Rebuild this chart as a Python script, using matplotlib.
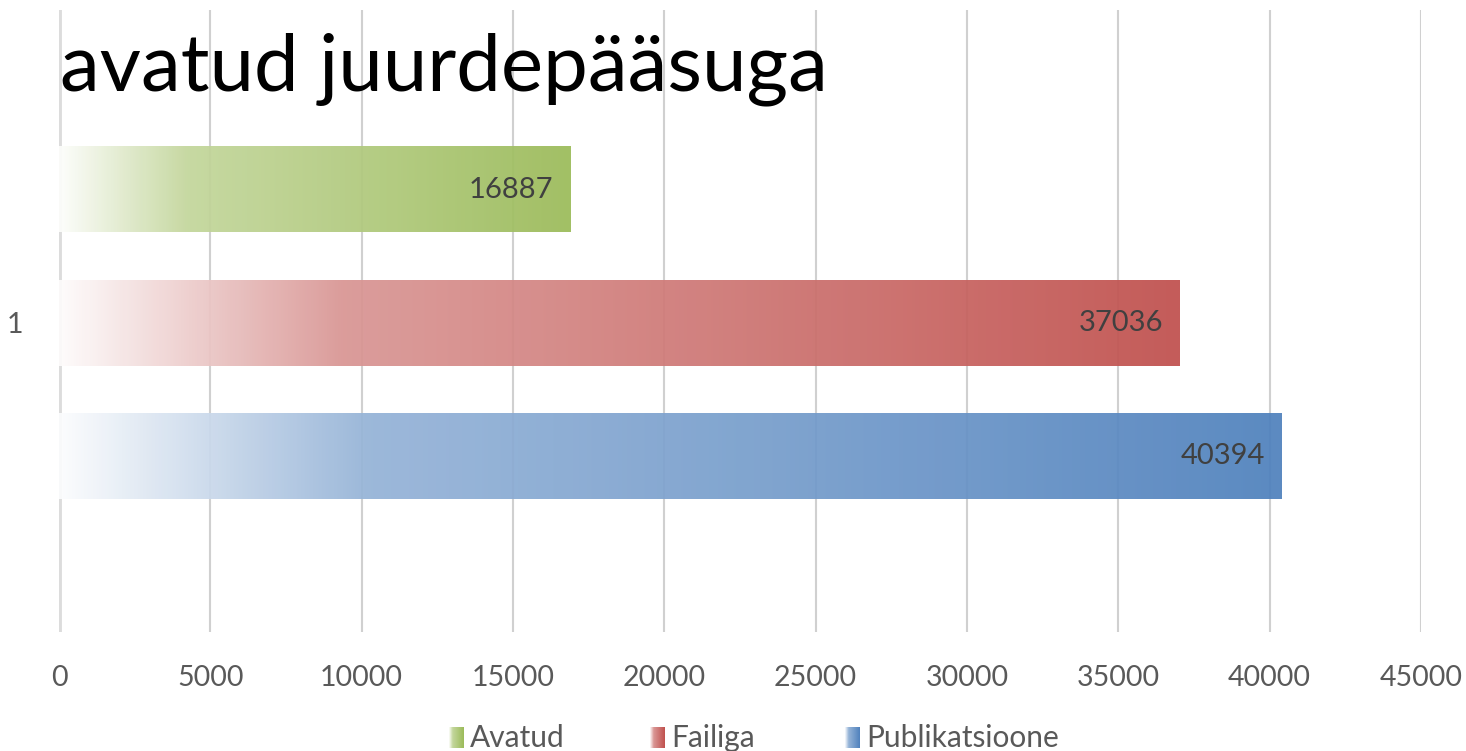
import numpy as np
import matplotlib.pyplot as plt
from matplotlib.colors import to_rgb

plt.rcParams['font.family'] = ['Lato', 'DejaVu Sans']

title = 'avatud juurdepääsuga'
series = ['Avatud', 'Failiga', 'Publikatsioone']
values = [16887, 37036, 40394]
colors = ['#9BBB59', '#C0504D', '#4F81BD']
category = '1'
xticks = [0, 5000, 10000, 15000, 20000, 25000, 30000, 35000, 40000, 45000]

W, H = 1466, 751


def gradient(color, n=256):
    # white -> colour, fast ramp over the first quarter, then slower
    t = np.linspace(0, 1, n)
    f = np.interp(t, [0, 0.25, 1], [0.02, 0.6, 1.0])
    c = np.array(to_rgb(color))
    rgb = 1 - f[:, None] * (1 - c[None, :])
    return rgb[None, :, :]


fig = plt.figure(figsize=(W / 100, H / 100), dpi=100)
ax = fig.add_axes([59 / W, (H - 632) / H, (1421 - 59) / W, (632 - 10) / H])

ypos = [2, 1, 0]
bar_h = 0.64
for v, c, y in zip(values, colors, ypos):
    ax.imshow(gradient(c), extent=[0, v, y - bar_h / 2, y + bar_h / 2],
              aspect='auto', interpolation='bilinear', alpha=0.93, zorder=3)
    ax.text(v - 550, y, f'{v}', ha='right', va='center', fontsize=21,
            color='#404040', zorder=4)

ax.set_xlim(0, 45000)
ax.set_ylim(-1.32, 3.35)
ax.set_xticks(xticks)
ax.set_xticklabels([str(x) for x in xticks], fontsize=20.5, color='#595959')
ax.set_yticks([1])
ax.set_yticklabels([category], fontsize=20.5, color='#595959')
ax.tick_params(axis='x', length=0, pad=24)
ax.tick_params(axis='y', length=0, pad=32)
for s in ax.spines.values():
    s.set_visible(False)
ax.grid(axis='x', color='#D0D0D0', linewidth=1.5, zorder=0)
ax.axvline(0, color='#DCDCDC', linewidth=3.5, zorder=1)
ax.set_axisbelow(True)
for lbl in ax.get_yticklabels():
    lbl.set_horizontalalignment('center')

fig.text(60 / W, 1 - 90 / H, title, fontsize=57.5, color='black',
         ha='left', va='baseline', zorder=10)

# legend with gradient swatches
leg_x = [449, 650, 845]
for name, c, x in zip(series, colors, leg_x):
    lax = fig.add_axes([x / W, (H - 748) / H, 15 / W, 21 / H])
    lax.imshow(gradient(c), aspect='auto', interpolation='bilinear')
    lax.axis('off')
    fig.text((x + 21) / W, 1 - 738 / H, name, fontsize=21.5, color='#595959',
             ha='left', va='center')

fig.savefig('out.png', dpi=100, facecolor='white')
